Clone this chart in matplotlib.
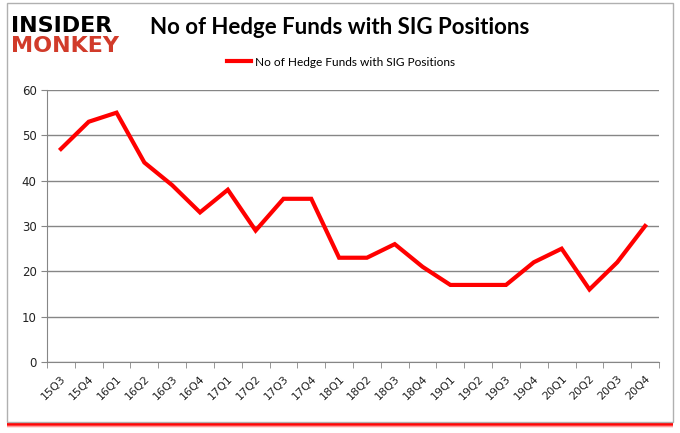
import numpy as np
import matplotlib
matplotlib.use("Agg")
import matplotlib.pyplot as plt
from matplotlib.patches import Rectangle

quarters = ["15Q3", "15Q4", "16Q1", "16Q2", "16Q3", "16Q4", "17Q1", "17Q2",
            "17Q3", "17Q4", "18Q1", "18Q2", "18Q3", "18Q4", "19Q1", "19Q2",
            "19Q3", "19Q4", "20Q1", "20Q2", "20Q3", "20Q4"]
funds = [47, 53, 55, 44, 39, 33, 38, 29, 36, 36, 23, 23, 26, 21, 17, 17,
         17, 22, 25, 16, 22, 30]
series_name = "No of Hedge Funds with SIG Positions"

W, H = 680, 433
fig = plt.figure(figsize=(W / 100, H / 100), dpi=100)

# frame with a soft red shadow at the bottom
for i, a in enumerate([0.12, 0.3, 0.6, 0.9]):
    fig.patches.append(Rectangle((7 / W, (5 + i) / H), 666 / W, 6 / H,
                                 transform=fig.transFigure, color="#ff0000",
                                 alpha=a, lw=0, zorder=0))
fig.patches.append(Rectangle((7 / W, 11 / H), 666 / W, 419 / H,
                             transform=fig.transFigure, facecolor="white",
                             edgecolor="#b0b0b0", lw=1, zorder=1))

ax = fig.add_axes([47 / W, 1 - 362 / H, 612 / W, 272 / H])
ax.set_zorder(2)
x = np.arange(len(quarters))
ax.plot(x, funds, color="#ff0000", lw=3, label=series_name,
        solid_joinstyle="miter", zorder=3)

ax.set_xlim(-0.5, len(quarters) - 0.5)
ax.set_ylim(0, 60)
ax.set_yticks(range(0, 61, 10))
ax.grid(axis="y", color="#868686", lw=1)
ax.set_axisbelow(True)
ax.set_xticks(x)
ax.set_xticklabels(quarters, rotation=45, ha="right", rotation_mode="anchor")
ax.set_xticks(np.arange(-0.5, len(quarters)), minor=True)
ax.tick_params(axis="x", which="major", length=0, pad=8, labelsize=8,
               labelcolor="#222222")
ax.tick_params(axis="x", which="minor", length=4, color="#868686")
ax.tick_params(axis="y", length=4, color="#868686", labelsize=8.5,
               labelcolor="#222222")
for s in ["top", "right"]:
    ax.spines[s].set_visible(False)
for s in ["left", "bottom"]:
    ax.spines[s].set_color("#868686")

fig.text(340 / W, 1 - 28 / H, series_name,
         ha="center", va="center", fontsize=16, fontweight="bold",
         family="Lato", color="black")
fig.legend(loc="center", bbox_to_anchor=(341 / W, 1 - 62 / H), frameon=False,
           handlelength=2.0, handletextpad=0.3,
           prop={"family": "Lato", "size": 8.6})

# logo
fig.text(11 / W, 1 - 32 / H, "INSIDER", ha="left", va="baseline", fontsize=16,
         fontweight="heavy", family="DejaVu Sans", color="black")
fig.text(11 / W, 1 - 52 / H, "MONKEY", ha="left", va="baseline", fontsize=16,
         fontweight="heavy", family="DejaVu Sans", color="#d13b2a")

fig.savefig("out.png", dpi=100)
